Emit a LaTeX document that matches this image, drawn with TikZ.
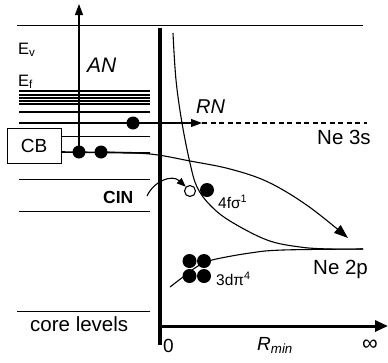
\documentclass[tikz,border=0pt]{standalone}
\usepackage{fontspec}
\setmainfont{Liberation Sans}
\usetikzlibrary{arrows.meta}

\begin{document}
\begin{tikzpicture}[x=1pt,y=-1pt,
  level/.style={line width=1pt},
  flevel/.style={line width=1.6pt},
  electron/.style={circle,fill=black,inner sep=0pt,minimum size=13pt},
  dpi/.style={circle,fill=black,inner sep=0pt,minimum size=14pt},
  hole/.style={circle,draw=black,line width=1.1pt,fill=white,inner sep=0pt,minimum size=11pt},
  lbl/.style={inner sep=0pt,font=\fontsize{20.5}{22}\selectfont},
  small/.style={inner sep=0pt,font=\fontsize{15.5}{17}\selectfont},
  tip/.style={-{Triangle[length=11pt,width=8pt]}},
]
\useasboundingbox (0,0) rectangle (388,362);

% vacuum level
\draw[level] (17,25) -- (363,25);

% Fermi sea and band levels
\foreach \y in {91,95,98,101,104,112,123}
  \draw[flevel] (19,\y) -- (150,\y);
\draw[level] (61,136) -- (150,136);
\draw[flevel] (61,152) -- (150,153);
\draw[level] (19,179) -- (150,179);
\draw[level] (19,211) -- (150,211);
\draw[level] (17,311.5) -- (150,311.5);

% conduction band box
\node[draw,line width=1pt,minimum width=54pt,minimum height=35pt,inner sep=0pt,
      font=\fontsize{19}{21}\selectfont] (cb) at (34,145.5) {CB};

% axes
\coordinate (ytop) at (160,28);
\coordinate (ybot) at (160,345);
\coordinate (xo) at (158,326);
\coordinate (xend) at (388,326);
\draw[line width=4pt] (ytop) -- (ybot);
\draw[line width=3pt,-{Triangle[length=13pt,width=11pt]}] (xo) -- (xend);

% Ne 3s potential curve
\draw[line width=1.1pt] plot[smooth,tension=0.6] coordinates
  {(173,33) (176,80) (182,123) (190,163) (197,187) (210,205) (230,221)
   (267,240) (300,247) (330,249) (363,249)};
% Ne 3d curve
\draw[line width=1.1pt] plot[smooth,tension=0.6] coordinates
  {(170,287) (183,277) (198,266) (212,260) (250,253) (283,250) (363,249)};

% electrons
\node[electron] (e1) at (133,123) {};
\node[electron] (e2) at (79,152) {};
\node[electron] (e3) at (101,152) {};
\node[hole] (h1) at (190,191) {};
\node[electron,minimum size=14pt] (e4) at (207,190) {};
\node[dpi] (d1) at (189.5,261) {};
\node[dpi] (d2) at (204,261) {};
\node[dpi] (d3) at (189.5,276) {};
\node[dpi] (d4) at (204,276) {};

% Auger neutralisation
\coordinate (antop) at (79,4);
\draw[line width=1.1pt,tip] (e2.center) -- (antop);

% resonant neutralisation
\coordinate (rn) at (202,123);
\coordinate (rnend) at (367,123);
\draw[line width=1.1pt,tip] (e1) -- (rn);
\draw[line width=1.1pt,dashed,dash pattern=on 5pt off 3.5pt] (rn) -- (rnend);

% CB electron trajectory
\coordinate (cinend) at (348,238);
\draw[line width=1.1pt,-{Triangle[length=14pt,width=10pt]}] plot[smooth,tension=0.6] coordinates
  {(e3) (150,154) (190,161) (230,169) (268,182) (308,206) (cinend)};

% core-ion neutralisation
\coordinate (cinstart) at (147,196);
\draw[line width=1.1pt,-{Triangle[length=9pt,width=7pt]}] (cinstart)
  .. controls (154,181) and (172,174) .. (h1.north west);

% labels
\node[anchor=base west,small,font=\fontsize{16.5}{18}\selectfont] (ev) at (18,54) {E\textsubscript{v}};
\node[anchor=base west,small,font=\fontsize{16.5}{18}\selectfont] (ef) at (18,86) {E\textsubscript{f}};
\node[anchor=base west,lbl,font=\fontsize{21}{23}\selectfont\itshape] (an) at (87,72) {AN};
\node[anchor=base west,lbl,font=\fontsize{20}{22}\selectfont\itshape] (rnl) at (196,113) {RN};
\node[anchor=base west,lbl] (ne3s) at (317,144) {Ne 3s};
\node[anchor=base west,lbl] (ne2p) at (313,274) {Ne 2p};
\node[anchor=base west,small,font=\fontsize{17.5}{19}\selectfont\bfseries] (cin) at (103,203) {CIN};
\node[anchor=base west,small] (f4) at (218,208) {4fσ\textsuperscript{1}};
\node[anchor=base west,small] (d3l) at (216,285) {3dπ\textsuperscript{4}};
\node[anchor=base west,lbl] (core) at (30,331) {core levels};
\node[anchor=base west,lbl,font=\fontsize{19}{21}\selectfont] (zero) at (163,352) {0};
\node[anchor=base west,lbl,font=\fontsize{19}{21}\selectfont] (rmin) at (257,350) {\itshape R\textsubscript{min}};
\node[anchor=base west,lbl,font=\fontsize{22}{24}\selectfont] (inf) at (362,350) {∞};
\end{tikzpicture}
\end{document}
